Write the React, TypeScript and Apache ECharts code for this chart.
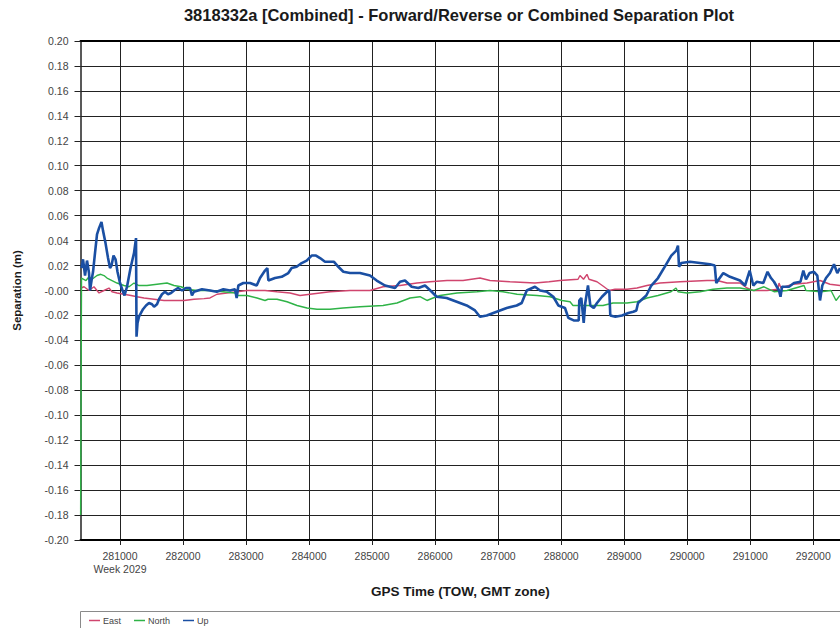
import React, { useEffect, useRef } from 'react';
import * as echarts from 'echarts';

const X_MIN = 280373;
const X_MAX = 292425;
const xTicks = [281000, 282000, 283000, 284000, 285000, 286000, 287000, 288000, 289000, 290000, 291000, 292000];
const weekLabel = 'Week 2029';

const eastT = [280381, 280429, 280508, 280587, 280667, 280746, 280825, 280873, 280952, 281063, 281175, 281270, 281381, 281540, 281698, 282016, 282174, 282333, 282428, 282539, 282857, 283015, 283301, 283491, 283698, 283856, 284015, 284332, 284650, 284967, 285173, 285443, 285713, 285919, 286189, 286443, 286712, 286871, 287189, 287585, 287807, 287982, 288268, 288299, 288355, 288410, 288442, 288569, 288680, 288759, 288855, 289045, 289204, 289362, 289569, 289886, 290315, 290473, 290632, 290838, 290949, 291044, 291267, 291441, 291457, 291489, 291679, 291901, 292108, 292266, 292425];
const eastV = [0.002, 0.003, 0.0, 0.003, -0.002, 0.0, 0.002, -0.001, -0.002, -0.003, -0.004, -0.005, -0.006, -0.007, -0.008, -0.008, -0.007, -0.0065, -0.006, -0.003, -0.001, 0.0, 0.0, -0.001, -0.002, -0.004, -0.003, -0.001, 0.0, 0.0, 0.003, 0.004, 0.006, 0.007, 0.008, 0.008, 0.010, 0.008, 0.007, 0.006, 0.007, 0.008, 0.009, 0.012, 0.009, 0.013, 0.009, 0.007, 0.003, 0.0, 0.001, 0.001, 0.002, 0.004, 0.006, 0.007, 0.008, 0.008, 0.006, 0.006, 0.002, 0.0, 0.0, 0.001, 0.006, 0.002, 0.005, 0.006, 0.008, 0.005, 0.004];

const northT = [280375, 280389, 280460, 280508, 280556, 280635, 280694, 280746, 280794, 280873, 280952, 281063, 281143, 281222, 281301, 281428, 281587, 281746, 281857, 281968, 282063, 282222, 282428, 282634, 282825, 282872, 283015, 283174, 283301, 283348, 283491, 283650, 283809, 283967, 284126, 284332, 284539, 284808, 285173, 285395, 285602, 285760, 285871, 285967, 286078, 286348, 286665, 286871, 287077, 287300, 287617, 287823, 288014, 288141, 288188, 288331, 288664, 288823, 289045, 289204, 289362, 289537, 289743, 289823, 289854, 289997, 290203, 290410, 290632, 290838, 291060, 291219, 291378, 291584, 291854, 291885, 292123, 292282, 292362, 292425];
const northV = [-0.18, 0.010, 0.008, 0.011, 0.009, 0.012, 0.013, 0.012, 0.010, 0.008, 0.006, 0.004, 0.003, 0.006, 0.004, 0.004, 0.005, 0.006, 0.004, 0.003, 0.001, 0.0, 0.0, -0.001, -0.002, -0.004, -0.004, -0.006, -0.008, -0.007, -0.007, -0.009, -0.012, -0.014, -0.015, -0.015, -0.014, -0.013, -0.012, -0.010, -0.006, -0.005, -0.008, -0.006, -0.004, -0.002, -0.001, 0.0, -0.001, -0.003, -0.004, -0.005, -0.008, -0.009, -0.012, -0.012, -0.012, -0.010, -0.010, -0.009, -0.006, -0.004, -0.001, 0.002, -0.001, -0.002, -0.001, 0.001, 0.002, 0.002, 0.0, 0.003, -0.001, 0.0, 0.004, 0.0, -0.001, 0.0, -0.008, -0.004];

const upT = [280389, 280413, 280445, 280476, 280508, 280524, 280548, 280572, 280603, 280635, 280667, 280706, 280730, 280770, 280810, 280841, 280865, 280897, 280929, 280960, 281000, 281040, 281071, 281111, 281167, 281222, 281254, 281262, 281278, 281301, 281333, 281365, 281413, 281460, 281508, 281540, 281587, 281619, 281666, 281714, 281762, 281809, 281857, 281920, 281984, 282047, 282111, 282142, 282174, 282300, 282428, 282534, 282640, 282745, 282825, 282851, 282878, 282957, 283063, 283169, 283222, 283301, 283338, 283354, 283460, 283565, 283671, 283724, 283803, 283883, 283962, 284041, 284110, 284174, 284253, 284396, 284464, 284544, 284650, 284808, 284967, 285073, 285205, 285364, 285443, 285522, 285628, 285734, 285840, 285946, 286025, 286184, 286343, 286501, 286633, 286712, 286819, 286977, 287136, 287295, 287374, 287454, 287585, 287665, 287771, 287876, 287955, 288061, 288114, 288199, 288279, 288288, 288320, 288358, 288383, 288426, 288463, 288517, 288569, 288648, 288728, 288764, 288780, 288860, 288966, 289066, 289145, 289193, 289220, 289351, 289431, 289537, 289643, 289748, 289827, 289854, 289870, 289907, 290045, 290203, 290362, 290437, 290462, 290516, 290573, 290679, 290838, 290918, 290992, 291049, 291103, 291208, 291275, 291330, 291378, 291457, 291481, 291505, 291616, 291695, 291798, 291843, 291885, 291941, 292012, 292065, 292108, 292144, 292203, 292266, 292330, 292382, 292425];
const upV = [0.018, 0.025, 0.012, 0.024, 0.014, 0.0, 0.008, 0.015, 0.030, 0.045, 0.050, 0.055, 0.048, 0.038, 0.026, 0.018, 0.020, 0.028, 0.025, 0.015, 0.006, 0.0, -0.004, 0.003, 0.018, 0.030, 0.042, -0.037, -0.026, -0.021, -0.018, -0.015, -0.012, -0.010, -0.011, -0.013, -0.011, -0.007, -0.003, -0.001, -0.003, -0.002, 0.0, 0.002, 0.0, 0.002, 0.002, -0.004, -0.001, 0.001, 0.0, -0.001, 0.001, 0.0, 0.001, -0.006, 0.004, 0.006, 0.006, 0.004, 0.010, 0.016, 0.018, 0.008, 0.010, 0.011, 0.014, 0.018, 0.019, 0.022, 0.024, 0.028, 0.028, 0.026, 0.023, 0.023, 0.019, 0.015, 0.014, 0.014, 0.012, 0.008, 0.004, 0.002, 0.007, 0.008, 0.003, 0.002, 0.004, -0.001, -0.005, -0.006, -0.009, -0.012, -0.016, -0.021, -0.020, -0.017, -0.014, -0.012, -0.010, 0.0, 0.003, 0.0, -0.001, -0.005, -0.012, -0.014, -0.022, -0.024, -0.024, -0.008, -0.006, -0.026, -0.010, 0.004, -0.012, -0.014, -0.010, -0.005, -0.001, 0.0, -0.020, -0.021, -0.020, -0.018, -0.017, -0.016, -0.010, -0.004, 0.004, 0.010, 0.019, 0.028, 0.032, 0.036, 0.019, 0.022, 0.023, 0.022, 0.021, 0.020, 0.006, 0.010, 0.014, 0.011, 0.008, 0.004, 0.016, 0.004, 0.007, 0.006, 0.015, 0.010, 0.007, 0.0, -0.005, 0.003, 0.003, 0.006, 0.007, 0.016, 0.009, 0.014, 0.015, 0.012, -0.008, 0.004, 0.010, 0.014, 0.021, 0.014, 0.018];

const zip = (t: number[], v: number[]) => t.map((x, i) => [x, v[i]]);

const FONT = '"Liberation Sans", Arial, sans-serif';

export default function App() {
  const ref = useRef<HTMLDivElement>(null);
  useEffect(() => {
    document.body.style.margin = '0';
    const chart = echarts.init(ref.current!, null, { renderer: 'svg' });
    chart.setOption({
      animation: false,
      backgroundColor: '#ffffff',
      textStyle: { fontFamily: FONT },
      grid: { left: 80.5, right: 0, top: 41, bottom: 88, containLabel: false },
      graphic: [
        {
          type: 'text',
          x: 459,
          y: 15,
          style: {
            text: '3818332a [Combined] - Forward/Reverse or Combined Separation Plot',
            fontFamily: FONT,
            fontSize: 16.5,
            fontWeight: 'bold',
            fill: '#1a1a1a',
            textAlign: 'center',
            textVerticalAlign: 'middle',
          },
        },
        {
          type: 'rect',
          z: -1,
          shape: { x: 80.5, y: 611.5, width: 780, height: 30 },
          style: { fill: '#ffffff', stroke: '#8a8a8a', lineWidth: 1 },
        },
      ],
      legend: {
        data: ['East', 'North', 'Up'],
        icon: 'rect',
        left: 89,
        top: 616,
        padding: 0,
        itemWidth: 11,
        itemHeight: 1.5,
        itemGap: 13,
        z: 10,
        textStyle: { fontFamily: FONT, fontSize: 9, color: '#444', padding: [0, 0, 0, -2] },
      },
      xAxis: [
        {
          type: 'value',
          min: X_MIN,
          max: X_MAX,
          name: 'GPS Time (TOW, GMT zone)',
          nameLocation: 'middle',
          nameGap: 44,
          nameTextStyle: { fontFamily: FONT, fontSize: 13.5, fontWeight: 'bold', color: '#1a1a1a' },
          axisLine: { show: true, onZero: false, lineStyle: { color: '#000', width: 2 } },
          axisTick: { show: true, length: 5, customValues: xTicks, lineStyle: { color: '#222' } },
          axisLabel: {
            customValues: xTicks,
            margin: 9,
            fontFamily: FONT,
            fontSize: 10.5,
            color: '#444',
            lineHeight: 13,
            formatter: (v: number) => (v === xTicks[0] ? `${v}\n${weekLabel}` : `${v}`),
          },
          splitLine: { show: true, lineStyle: { color: '#222', width: 1 } },
        },
        {
          type: 'value',
          position: 'top',
          min: X_MIN,
          max: X_MAX,
          axisLine: { show: true, onZero: false, lineStyle: { color: '#000', width: 2 } },
          axisTick: { show: false },
          axisLabel: { show: false },
          splitLine: { show: false },
        },
      ],
      yAxis: {
        type: 'value',
        min: -0.2,
        max: 0.2,
        interval: 0.02,
        name: 'Separation (m)',
        nameLocation: 'middle',
        nameGap: 58,
        nameRotate: 90,
        nameTextStyle: { fontFamily: FONT, fontSize: 11.5, fontWeight: 'bold', color: '#1a1a1a' },
        axisLine: { show: true, onZero: false, lineStyle: { color: '#222', width: 1.5 } },
        axisTick: { show: true, length: 6, lineStyle: { color: '#222' } },
        axisLabel: {
          margin: 12,
          fontFamily: FONT,
          fontSize: 10.5,
          color: '#444',
          formatter: (v: number) => (Math.abs(v) < 1e-9 ? '-0.00' : v.toFixed(2)),
        },
        splitLine: { show: true, lineStyle: { color: '#222', width: 1 } },
      },
      series: [
        {
          name: 'East',
          type: 'line',
          data: zip(eastT, eastV),
          symbol: 'none',
          showSymbol: false,
          lineStyle: { color: '#d0456e', width: 1.4 },
          itemStyle: { color: '#d0456e' },
          z: 3,
        },
        {
          name: 'North',
          type: 'line',
          data: zip(northT, northV),
          symbol: 'none',
          showSymbol: false,
          lineStyle: { color: '#2fb347', width: 1.4 },
          itemStyle: { color: '#2fb347' },
          z: 3,
        },
        {
          name: 'Up',
          type: 'line',
          data: zip(upT, upV),
          symbol: 'none',
          showSymbol: false,
          lineStyle: { color: '#1a4fa3', width: 2.6 },
          itemStyle: { color: '#1a4fa3' },
          z: 4,
        },
      ],
    });
    return () => chart.dispose();
  }, []);
  return <div ref={ref} style={{ width: 840, height: 628, position: 'absolute', left: 0, top: 0 }} />;
}
